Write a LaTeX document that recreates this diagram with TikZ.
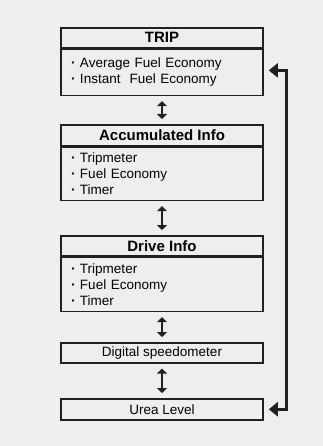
\documentclass[tikz,border=0pt]{standalone}
\usepackage{fontspec}
\setmainfont{Liberation Sans}
\usetikzlibrary{positioning,arrows.meta}
\definecolor{bg}{HTML}{EEEEEE}
\definecolor{ink}{HTML}{231F20}
\newcommand{\dotitem}{{\bfseries ·}\ }
\tikzset{
    titlebox/.style={draw=ink, line width=1.6pt, minimum width=202pt, inner sep=0pt,
        anchor=north, font=\fontsize{15}{15}\selectfont\bfseries},
    namebox/.style={titlebox, font=\fontsize{13.5}{16}\selectfont},
    bodybox/.style={draw=ink, line width=1.6pt, text width=182pt, inner xsep=10pt,
        inner ysep=0pt, align=left, font=\fontsize{13.5}{16}\selectfont},
    switch/.style={{Triangle[width=10pt,length=5pt]}-{Triangle[width=10pt,length=5pt]},
        line width=2.5pt, draw=ink, shorten <=5pt, shorten >=5pt},
    loop/.style={{Triangle[width=14pt,length=9pt]}-{Triangle[width=14pt,length=9pt]},
        line width=3pt, draw=ink}
}
\begin{document}
\begin{tikzpicture}[x=1pt,y=-1pt]
        % background
            \fill[bg] (0,0) rectangle (323,446);
        % boxes
            \node[titlebox, minimum height=20pt] (trip) at (162,27) {TRIP};
            \node[bodybox, minimum height=46pt, below=0pt of trip] (tripbody)
                {\dotitem Average Fuel Economy\\\dotitem Instant\ \ Fuel Economy};
            \node[titlebox, minimum height=21pt] (accum) at (162,124) {Accumulated Info};
            \node[bodybox, minimum height=53pt, below=0pt of accum] (accumbody)
                {\dotitem Tripmeter\\\dotitem Fuel Economy\\\dotitem Timer};
            \node[titlebox, minimum height=20pt] (drive) at (162,235) {Drive Info};
            \node[bodybox, minimum height=54pt, below=0pt of drive] (drivebody)
                {\dotitem Tripmeter\\\dotitem Fuel Economy\\\dotitem Timer};
            \node[namebox, minimum height=20pt] (speedo) at (162,342) {Digital speedometer};
            \node[namebox, minimum height=21pt] (urea) at (162,398) {Urea Level};
        % switching
            \foreach \a/\b in {tripbody/accum,accumbody/drive,drivebody/speedo,speedo/urea}{
                \draw[switch] (\a.south) -- (\b.north);
            }
        % loop back
            \coordinate (top) at ([xshift=5pt,yshift=2pt]tripbody.east);
            \coordinate (bottom) at ([xshift=5pt]urea.east);
            \draw[loop] (top) -- ++(18,0) |- (bottom);
\end{tikzpicture}
\end{document}
